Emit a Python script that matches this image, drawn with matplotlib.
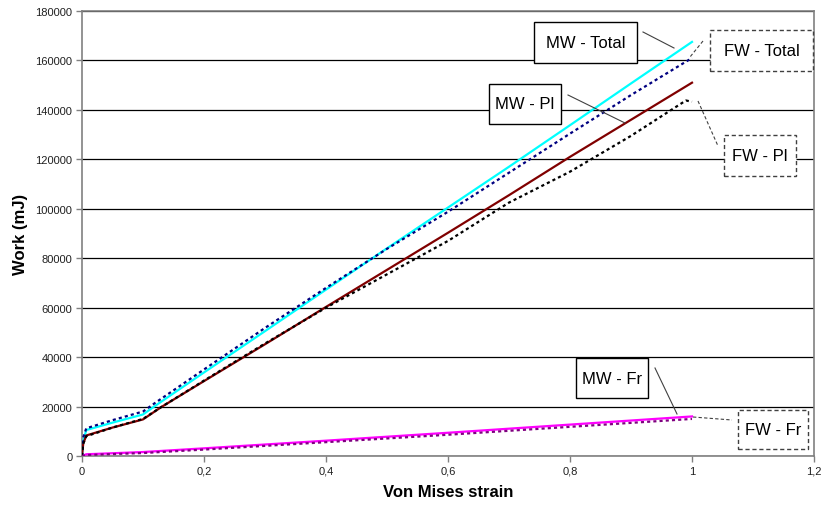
import matplotlib
matplotlib.use("Agg")
import matplotlib.pyplot as plt
from matplotlib.lines import Line2D
from matplotlib.patches import Rectangle
from matplotlib.ticker import FuncFormatter

plt.rcParams['font.family'] = ['Liberation Sans', 'DejaVu Sans']

# ---- data ----
mw_total_x = [0, 0.002, 0.007, 0.05, 0.1, 0.12, 0.2, 0.3, 0.4, 0.5, 0.6, 0.7, 0.8, 0.9, 1.0]
mw_total_y = [0, 6000, 10500, 13500, 16800, 20300, 33800, 50500, 67300, 84000, 100500, 117000, 133800, 150700, 167500]

fw_total_x = [0, 0.002, 0.007, 0.05, 0.1, 0.12, 0.2, 0.3, 0.4, 0.5, 0.6, 0.7, 0.8, 0.9, 1.0]
fw_total_y = [0, 7500, 11200, 14500, 18000, 21500, 35000, 51800, 68000, 83800, 98800, 114600, 130400, 146000, 161000]

mw_pl_x = [0, 0.002, 0.007, 0.05, 0.1, 0.13, 0.2, 0.3, 0.4, 0.5, 0.6, 0.7, 0.8, 0.9, 1.0]
mw_pl_y = [0, 5000, 8300, 11500, 14800, 19800, 30300, 45200, 60300, 75300, 90300, 105500, 121000, 136000, 151000]

fw_pl_x = [0, 0.002, 0.007, 0.05, 0.1, 0.13, 0.2, 0.3, 0.4, 0.5, 0.6, 0.7, 0.8, 0.9, 0.99, 1.0]
fw_pl_y = [0, 5000, 8000, 11500, 15000, 19800, 30500, 45500, 60000, 73500, 87000, 102500, 115000, 129500, 143800, 143300]

mw_fr_x = [0, 0.007, 0.1, 0.2, 0.4, 0.6, 0.8, 1.0]
mw_fr_y = [0, 700, 1600, 3100, 6200, 9400, 12700, 16000]

fw_fr_x = [0, 0.007, 0.1, 0.2, 0.4, 0.6, 0.8, 1.0]
fw_fr_y = [0, 400, 1200, 2600, 5600, 8600, 11800, 15000]

x_ticks = [0, 0.2, 0.4, 0.6, 0.8, 1.0, 1.2]
y_ticks = [0, 20000, 40000, 60000, 80000, 100000, 120000, 140000, 160000, 180000]

W, H = 821, 510
fig = plt.figure(figsize=(W / 100, H / 100), dpi=100)
L, R, T, B = 82, 814, 12, 457
ax = fig.add_axes([L / W, 1 - B / H, (R - L) / W, (B - T) / H])

ax.set_xlim(0, 1.2)
ax.set_ylim(0, 180000)
ax.set_xticks(x_ticks)
ax.set_yticks(y_ticks)
ax.xaxis.set_major_formatter(FuncFormatter(lambda v, p: ('%g' % v).replace('.', ',')))
ax.yaxis.set_major_formatter(FuncFormatter(lambda v, p: '%d' % v))
ax.tick_params(axis='both', direction='out', length=4, width=1, color='#808080',
               labelsize=8, labelcolor='#202020', pad=3)
for s in ax.spines.values():
    s.set_color('#808080')
    s.set_linewidth(1.2)
ax.grid(axis='y', color='black', linewidth=0.9)
ax.set_axisbelow(True)

ax.plot(mw_total_x, mw_total_y, color='#00FFFF', lw=1.6, zorder=3)
ax.plot(fw_total_x, fw_total_y, color='#000080', lw=1.6, linestyle=(0, (1.4, 1.4)), zorder=4)
ax.plot(mw_pl_x, mw_pl_y, color='#800000', lw=1.6, zorder=3)
ax.plot(fw_pl_x, fw_pl_y, color='black', lw=1.6, linestyle=(0, (1.4, 1.4)), zorder=4)
ax.plot(mw_fr_x, mw_fr_y, color='#FF00FF', lw=1.6, zorder=3)
ax.plot(fw_fr_x, fw_fr_y, color='#800080', lw=1.6, linestyle=(0, (1.4, 1.4)), zorder=4)

ax.set_xlabel('Von Mises strain', fontsize=12, fontweight='bold', labelpad=6)
ax.set_ylabel('Work (mJ)', fontsize=12, fontweight='bold', labelpad=5)


def fx(x):
    return x / W


def fy(y):
    return 1 - y / H


def label_box(text, x0, y0, x1, y1, dashed):
    ls = (0, (3, 2)) if dashed else '-'
    rect = Rectangle((fx(x0), fy(y1)), fx(x1) - fx(x0), fy(y0) - fy(y1),
                     transform=fig.transFigure, facecolor='white',
                     edgecolor='#404040' if dashed else 'black',
                     linewidth=1.0, linestyle=ls, zorder=10)
    fig.add_artist(rect)
    fig.text(fx((x0 + x1) / 2), fy((y0 + y1) / 2), text, ha='center', va='center',
             fontsize=12, color='black', zorder=11)


def leader(x0, y0, x1, y1, dashed):
    ln = Line2D([fx(x0), fx(x1)], [fy(y0), fy(y1)], transform=fig.transFigure,
                color='#404040', lw=0.8, linestyle=(0, (3, 2)) if dashed else '-', zorder=9)
    fig.add_artist(ln)


label_box('MW - Total', 534, 23, 637, 64, False)
leader(643, 33, 674, 49, False)
label_box('FW - Total', 710, 31, 813, 72, True)
leader(703, 42, 690, 58, True)
label_box('MW - Pl', 489, 85, 561, 125, False)
leader(568, 96, 625, 124, False)
label_box('FW - Pl', 724, 136, 796, 177, True)
leader(698, 102, 718, 147, True)
label_box('MW - Fr', 576, 359, 648, 399, False)
leader(655, 369, 677, 415, False)
label_box('FW - Fr', 738, 411, 808, 450, True)
leader(693, 418, 732, 421, True)

fig.savefig('out.png', dpi=100, facecolor='white')
